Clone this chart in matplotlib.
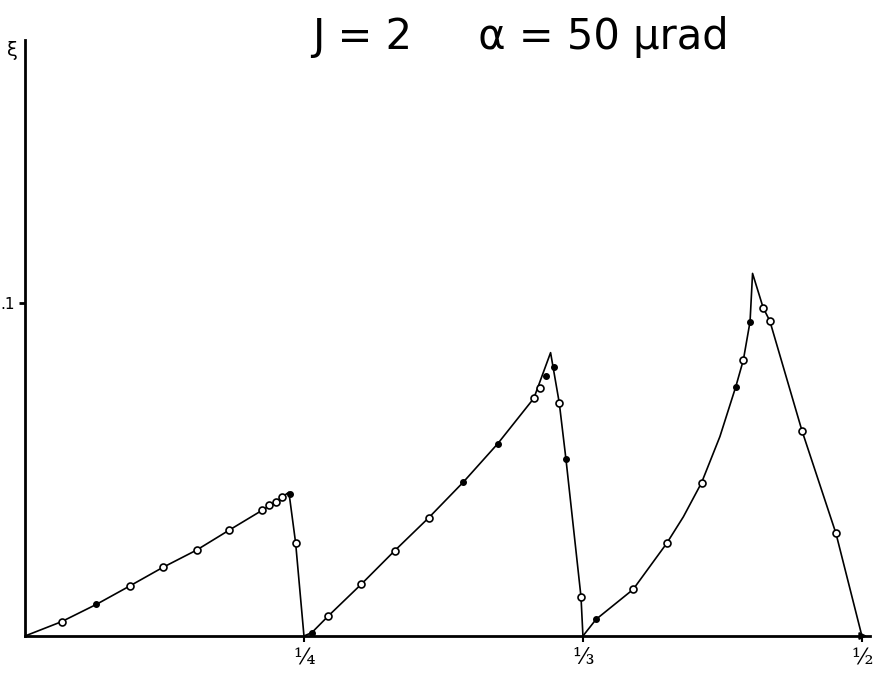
import numpy as np
from matplotlib import pyplot as plt

# curve vertices (x in tick units: 1 -> 1/4, 2 -> 1/3, 3 -> 1/2)
curve1_x = [0.0, 0.131, 0.256, 0.375, 0.494, 0.615, 0.732, 0.851, 0.899, 0.946, 0.970, 1.0]
curve1_y = [0.0, 0.0043, 0.0095, 0.0150, 0.0206, 0.0258, 0.0318, 0.0378, 0.0403, 0.0432, 0.0280, 0.0]
curve2_x = [1.0, 1.028, 1.087, 1.206, 1.325, 1.447, 1.571, 1.694, 1.824, 1.884, 1.915, 1.939, 1.993, 2.0]
curve2_y = [0.0, 0.0010, 0.0060, 0.0156, 0.0256, 0.0355, 0.0462, 0.0577, 0.0714, 0.0851, 0.0701, 0.0532, 0.0118, 0.0]
curve3_x = [2.0, 2.047, 2.180, 2.300, 2.360, 2.425, 2.491, 2.548, 2.575, 2.599, 2.608,
            2.646, 2.670, 2.785, 2.907, 3.0]
curve3_y = [0.0, 0.0050, 0.0140, 0.0278, 0.0358, 0.0460, 0.0599, 0.0749, 0.0829, 0.0944, 0.1089,
            0.0986, 0.0946, 0.0617, 0.0308, 0.0]

# measured points, open circles
open_x = [0.131, 0.375, 0.494, 0.615, 0.732, 0.851, 0.875, 0.899, 0.922, 0.970,
          1.087, 1.206, 1.325, 1.447, 1.824, 1.845, 1.915, 1.993,
          2.180, 2.300, 2.425, 2.575, 2.646, 2.670, 2.785, 2.907]
open_y = [0.0043, 0.0150, 0.0206, 0.0258, 0.0318, 0.0378, 0.0393, 0.0403, 0.0418, 0.0280,
          0.0060, 0.0156, 0.0256, 0.0355, 0.0714, 0.0746, 0.0701, 0.0118,
          0.0140, 0.0278, 0.0460, 0.0829, 0.0986, 0.0946, 0.0617, 0.0308]
# measured points, filled dots
fill_x = [0.256, 0.949, 1.028, 1.571, 1.694, 1.869, 1.896, 1.939, 2.047, 2.548, 2.599]
fill_y = [0.0095, 0.0426, 0.0010, 0.0462, 0.0577, 0.0781, 0.0807, 0.0532, 0.0050, 0.0749, 0.0944]

xtick_pos = [1, 2, 3]
xtick_labels = ["¼", "⅓", "½"]
ytick_pos = [0.1]
ytick_labels = [".1"]


def main():
    fig = plt.figure(figsize=(8.79, 6.75), dpi=100)
    ax = fig.add_axes([25/879, 39/675, 845/879, 596/675])
    ax.set_xlim(0, 3.029)
    ax.set_ylim(0, 0.179)

    for cx, cy in [(curve1_x, curve1_y), (curve2_x, curve2_y), (curve3_x, curve3_y)]:
        ax.plot(cx, cy, color="black", lw=1.2)

    ax.plot(open_x, open_y, "o", ms=5, mfc="white", mec="black", mew=1.2)
    ax.plot(fill_x, fill_y, "o", ms=4, mfc="black", mec="black")

    ax.spines.right.set_visible(False)
    ax.spines.top.set_visible(False)
    ax.spines.left.set_linewidth(2)
    ax.spines.bottom.set_linewidth(2)

    ax.set_xticks(xtick_pos)
    ax.set_xticklabels(xtick_labels, fontsize=16, family="DejaVu Serif")
    ax.set_yticks(ytick_pos)
    ax.set_yticklabels(ytick_labels, fontsize=11)
    ax.tick_params(axis="x", length=4, width=1.5, pad=4)
    ax.tick_params(axis="y", length=4, width=2, pad=3)

    ax.annotate("", xy=(3.029, 0), xytext=(2.99, 0),
                arrowprops=dict(arrowstyle="-|>", color="black", lw=1.5),
                annotation_clip=False)

    fig.text(12/879, 1 - 50/675, "ξ", fontsize=14, ha="center", va="center")
    fig.text(520/879, 1 - 37/675, "J = 2     α = 50 μrad", fontsize=30,
             ha="center", va="center")

    plt.savefig("out.png")
    plt.close()


if __name__ == "__main__":
    main()
